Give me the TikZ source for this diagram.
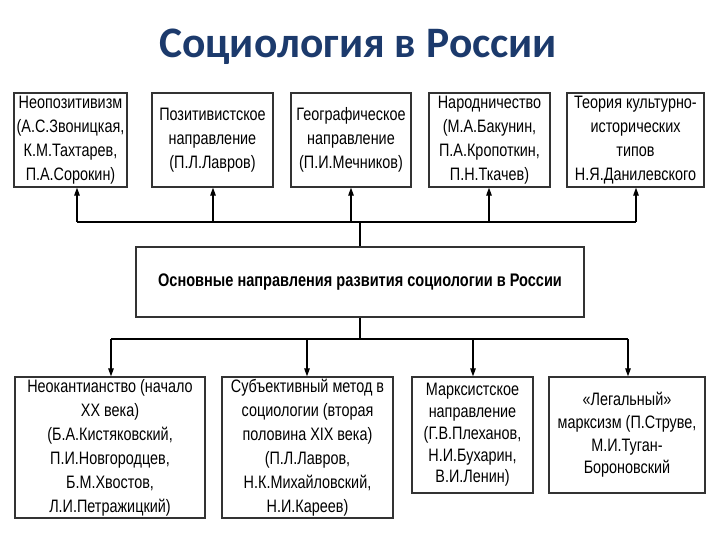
\documentclass[tikz,border=0pt]{standalone}
\usepackage{fontspec}
\setmainfont{Liberation Sans}[FakeStretch=0.8]
\newfontfamily\titlefont{Carlito}
\usetikzlibrary{arrows.meta}
\definecolor{titleblue}{HTML}{1C3A6C}
\definecolor{boxline}{HTML}{333333}
\tikzset{
  box/.style={draw=boxline, line width=1.3pt, fill=white, align=center, inner sep=0pt,
    font=\fontsize{18}{24}\selectfont},
  link/.style={line width=1.2pt, black},
  arr/.style={link, -{Triangle[length=8pt,width=5.5pt]}},
}
\begin{document}
\begin{tikzpicture}[x=1pt,y=-1pt]
\useasboundingbox (0,0) rectangle (720,540);
\node[font=\titlefont\bfseries\fontsize{43.5}{46}\selectfont, text=titleblue, anchor=base] (title) at (358,58) {Социология в России};

\node[box, minimum width=113pt, minimum height=94pt] (T1) at (70.5,140) {Неопозитивизм\\(А.С.Звоницкая,\\К.М.Тахтарев,\\П.А.Сорокин)};
\node[box, minimum width=121pt, minimum height=94pt] (T2) at (212.5,140) {Позитивистское\\направление\\(П.Л.Лавров)};
\node[box, minimum width=120pt, minimum height=94pt] (T3) at (351,140) {Географическое\\направление\\(П.И.Мечников)};
\node[box, minimum width=121pt, minimum height=94pt] (T4) at (489.5,140) {Народничество\\(М.А.Бакунин,\\П.А.Кропоткин,\\П.Н.Ткачев)};
\node[box, minimum width=137pt, minimum height=94pt] (T5) at (635.5,140) {Теория культурно-\\исторических\\типов\\Н.Я.Данилевского};

\node[box, minimum width=448pt, minimum height=70pt, font=\bfseries\fontsize{18.2}{20}\selectfont] (C) at (360,282) {Основные направления развития социологии в России};

\node[box, minimum width=190pt, minimum height=141pt] (B1) at (110,447.5) {Неокантианство (начало\\XX века)\\(Б.А.Кистяковский,\\П.И.Новгородцев,\\Б.М.Хвостов,\\Л.И.Петражицкий)};
\node[box, minimum width=171pt, minimum height=141pt] (B2) at (307.5,447.5) {Субъективный метод в\\социологии (вторая\\половина XIX века)\\(П.Л.Лавров,\\Н.К.Михайловский,\\Н.И.Кареев)};
\node[box, minimum width=121pt, minimum height=116pt, font=\fontsize{18}{21.7}\selectfont] (B3) at (472.5,435) {Марксистское\\направление\\(Г.В.Плеханов,\\Н.И.Бухарин,\\В.И.Ленин)};
\node[box, minimum width=156pt, minimum height=116pt, font=\fontsize{18}{22.7}\selectfont] (B4) at (627,435) {«Легальный»\\марксизм (П.Струве,\\М.И.Туган-\\Боронoвский};

% upper bus
\coordinate (up) at (360,222);
\coordinate (u1) at (77,222);
\coordinate (u2) at (213,222);
\coordinate (u3) at (351,222);
\coordinate (u4) at (489,222);
\coordinate (u5) at (636,222);
\draw[link] (C.north) -- (up);
\draw[link] (u1) -- (u5);
\draw[arr] (u1) -- (u1 |- T1.south);
\draw[arr] (u2) -- (u2 |- T2.south);
\draw[arr] (u3) -- (u3 |- T3.south);
\draw[arr] (u4) -- (u4 |- T4.south);
\draw[arr] (u5) -- (u5 |- T5.south);

% lower bus
\coordinate (dn) at (360,339);
\coordinate (l1) at (111,339);
\coordinate (l2) at (307,339);
\coordinate (l3) at (473,339);
\coordinate (l4) at (628,339);
\draw[link] (C.south) -- (dn);
\draw[link] (l1) -- (l4);
\draw[arr] (l1) -- (l1 |- B1.north);
\draw[arr] (l2) -- (l2 |- B2.north);
\draw[arr] (l3) -- (l3 |- B3.north);
\draw[arr] (l4) -- (l4 |- B4.north);
\end{tikzpicture}
\end{document}
